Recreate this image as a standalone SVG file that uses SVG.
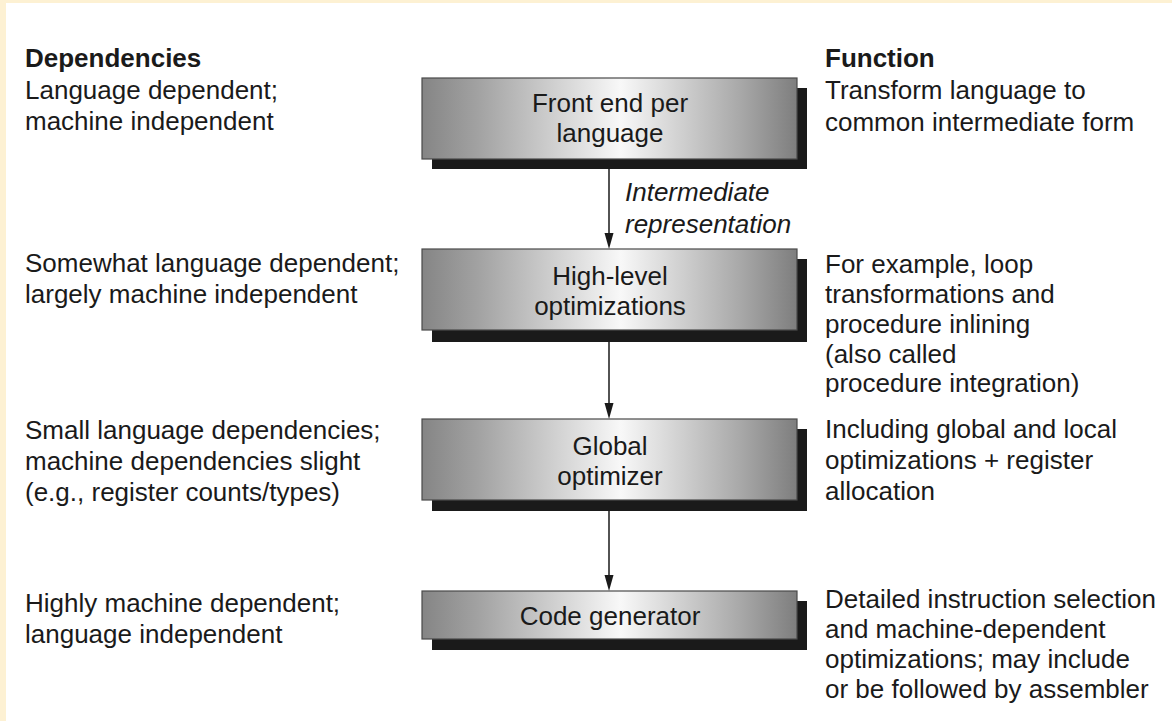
<svg xmlns="http://www.w3.org/2000/svg" width="1172" height="721" viewBox="0 0 1172 721">
  <defs>
    <linearGradient id="boxGrad" x1="0" y1="0" x2="1" y2="0">
      <stop offset="0" stop-color="#858585"/>
      <stop offset="0.15" stop-color="#a2a2a2"/>
      <stop offset="0.53" stop-color="#f8f8f8"/>
      <stop offset="0.85" stop-color="#a8a8a8"/>
      <stop offset="1" stop-color="#7e7e7e"/>
    </linearGradient>
  </defs>
  <style>
    text { font-family: "Liberation Sans", Arial, Helvetica, sans-serif; font-size: 26px; fill: #1a1a1a; }
    .bold { font-weight: bold; }
    .it { font-style: italic; }
    .mid { text-anchor: middle; }
    .box { fill: url(#boxGrad); stroke: #4a4a4a; stroke-width: 1.2; }
    .shadow { fill: #1a1a1a; }
    .conn { stroke: #1a1a1a; stroke-width: 1.5; fill: none; }
    .head { fill: #1a1a1a; }
  </style>

  <rect x="0" y="0" width="1172" height="721" fill="#fdf1d3"/>
  <rect x="6" y="3" width="1166" height="718" fill="#ffffff"/>

  <g id="connectors">
    <line class="conn" x1="609" y1="169" x2="609" y2="234"/>
    <path class="head" d="M604.5,233 L613.5,233 L609,249 Z"/>
    <line class="conn" x1="609" y1="342" x2="609" y2="404"/>
    <path class="head" d="M604.5,403 L613.5,403 L609,419 Z"/>
    <line class="conn" x1="609" y1="511" x2="609" y2="576"/>
    <path class="head" d="M604.5,575 L613.5,575 L609,591 Z"/>
    <text class="it" x="625" y="201">Intermediate</text>
    <text class="it" x="625" y="233">representation</text>
  </g>

  <g id="headers">
    <text class="bold" x="25" y="67">Dependencies</text>
    <text class="bold" x="825" y="67">Function</text>
  </g>

  <g id="node-frontend">
    <rect class="shadow" x="432" y="88" width="375" height="81"/>
    <rect class="box" x="422" y="78" width="375" height="81"/>
    <text class="mid" x="610" y="112">Front end per</text>
    <text class="mid" x="610" y="142">language</text>
  </g>

  <g id="node-highlevel">
    <rect class="shadow" x="432" y="259" width="375" height="83"/>
    <rect class="box" x="422" y="249" width="375" height="81"/>
    <text class="mid" x="610" y="285">High-level</text>
    <text class="mid" x="610" y="315">optimizations</text>
  </g>

  <g id="node-global">
    <rect class="shadow" x="432" y="429" width="375" height="82"/>
    <rect class="box" x="422" y="419" width="375" height="81"/>
    <text class="mid" x="610" y="455">Global</text>
    <text class="mid" x="610" y="485">optimizer</text>
  </g>

  <g id="node-codegen">
    <rect class="shadow" x="432" y="601" width="375" height="49"/>
    <rect class="box" x="422" y="591" width="375" height="48"/>
    <text class="mid" x="610" y="625">Code generator</text>
  </g>

  <g id="left-notes">
    <text x="25" y="99">Language dependent;</text>
    <text x="25" y="130">machine independent</text>
    <text x="25" y="272">Somewhat language dependent;</text>
    <text x="25" y="303">largely machine independent</text>
    <text x="25" y="439">Small language dependencies;</text>
    <text x="25" y="470">machine dependencies slight</text>
    <text x="25" y="501">(e.g., register counts/types)</text>
    <text x="25" y="612">Highly machine dependent;</text>
    <text x="25" y="643">language independent</text>
  </g>

  <g id="right-notes">
    <text x="825" y="99">Transform language to</text>
    <text x="825" y="131">common intermediate form</text>
    <text x="825" y="273">For example, loop</text>
    <text x="825" y="303">transformations and</text>
    <text x="825" y="333">procedure inlining</text>
    <text x="825" y="363">(also called</text>
    <text x="825" y="392">procedure integration)</text>
    <text x="825" y="438">Including global and local</text>
    <text x="825" y="469">optimizations + register</text>
    <text x="825" y="500">allocation</text>
    <text x="825" y="608">Detailed instruction selection</text>
    <text x="825" y="638">and machine-dependent</text>
    <text x="825" y="668">optimizations; may include</text>
    <text x="825" y="698">or be followed by assembler</text>
  </g>
</svg>
